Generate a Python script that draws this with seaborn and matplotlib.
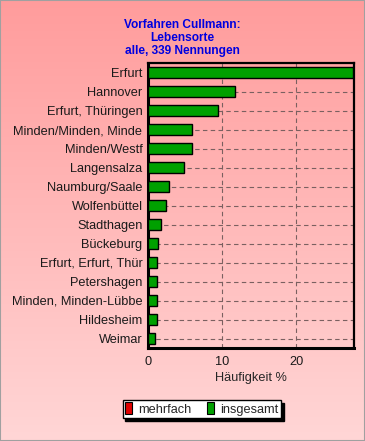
import numpy as np
import pandas as pd
import matplotlib
matplotlib.use("Agg")
import matplotlib.pyplot as plt
from matplotlib.patches import Patch
from matplotlib.ticker import MultipleLocator
import seaborn as sns

# ---------------------------------------------------------
# data (percent of 339 mentions)
# ---------------------------------------------------------
orte = ["Erfurt", "Hannover", "Erfurt, Thüringen", "Minden/Minden, Minde",
        "Minden/Westf", "Langensalza", "Naumburg/Saale", "Wolfenbüttel",
        "Stadthagen", "Bückeburg", "Erfurt, Erfurt, Thür", "Petershagen",
        "Minden, Minden-Lübbe", "Hildesheim", "Weimar"]
insgesamt = [27.7, 11.8, 9.4, 5.9, 5.9, 4.9, 2.9, 2.4,
             1.7, 1.4, 1.2, 1.2, 1.2, 1.2, 0.9]
mehrfach = [0.0] * len(orte)

title_lines = ["Vorfahren Cullmann:", "Lebensorte", "alle, 339 Nennungen"]
x_label = "Häufigkeit %"
legend_labels = ["mehrfach", "insgesamt"]

df = pd.DataFrame({"ort": orte, "insgesamt": insgesamt, "mehrfach": mehrfach})

sns.set_style("white")
plt.rcParams["font.family"] = ["Liberation Sans", "DejaVu Sans"]
FS = 9.2

fig = plt.figure(figsize=(3.65, 4.41), dpi=100)

# pink gradient background
bg = fig.add_axes([0, 0, 1, 1], zorder=-10)
grad = np.linspace(0, 1, 256).reshape(-1, 1)
top = np.array([255, 156, 156]) / 255
bot = np.array([255, 214, 214]) / 255
img = top + (bot - top) * grad[:, :, None]
bg.imshow(img, aspect="auto", extent=[0, 1, 0, 1])
bg.set_xlim(0, 1)
bg.set_ylim(0, 1)
bg.axis("off")
bg.add_patch(plt.Rectangle((0, 0), 1, 1, transform=bg.transAxes, fill=False,
                           edgecolor="#a0a0a0", lw=1.5))

ax = fig.add_axes([148 / 365, 1 - 348 / 441, 206 / 365, 285 / 441])
ax.patch.set_alpha(0)

sns.barplot(data=df, x="mehrfach", y="ort", orient="h", color="#e00000",
            width=0.55, edgecolor="black", linewidth=0, ax=ax, zorder=3)
sns.barplot(data=df, x="insgesamt", y="ort", orient="h", color="#00a000",
            saturation=1, width=0.55, edgecolor="black", linewidth=1, ax=ax, zorder=3)

ax.set_xlim(0, 27.8)
ax.set_ylim(len(orte) - 0.5, -0.5)
ax.xaxis.set_major_locator(MultipleLocator(10))
ax.xaxis.set_minor_locator(MultipleLocator(2))
ax.grid(True, axis="both", which="major", color="#7a6060", linestyle=(0, (4, 3)), lw=0.8, zorder=0)
ax.set_axisbelow(True)

ax.tick_params(axis="x", which="major", direction="out", length=4, width=1,
               labelsize=FS, pad=2, color="#505050")
ax.tick_params(axis="x", which="minor", direction="out", length=2.5, width=0.8, color="#505050")
ax.tick_params(axis="y", direction="out", length=3, width=1, labelsize=FS, pad=1, color="#505050")
ax.minorticks_on()
ax.yaxis.set_minor_locator(plt.NullLocator())
ax.set_ylabel("")
ax.set_xlabel(x_label, fontsize=FS, labelpad=3)
for lab in ax.get_xticklabels() + ax.get_yticklabels():
    lab.set_color("#1a1a1a")

for side in ["left", "bottom"]:
    ax.spines[side].set_linewidth(2.2)
for side in ["top", "right"]:
    ax.spines[side].set_linewidth(1.6)
for s in ax.spines.values():
    s.set_color("black")
    s.set_visible(True)

fig.text(0.5, 1 - 19 / 441, "\n".join(title_lines), ha="center", va="top",
         color="#0000e0", fontsize=8.6, fontweight="bold", linespacing=1.1)

handles = [Patch(facecolor="#e00000", edgecolor="black", lw=0.8),
           Patch(facecolor="#00a000", edgecolor="black", lw=0.8)]
leg = fig.legend(handles, legend_labels, loc="center", ncol=2,
                 bbox_to_anchor=(202 / 365, 1 - 409 / 441), fontsize=FS,
                 frameon=True, fancybox=False, shadow={"color": "black", "alpha": 1},
                 handlelength=0.55, handleheight=1.0, handletextpad=0.5,
                 columnspacing=1.2, borderpad=0.2, borderaxespad=0)
leg._legend_box.sep = 0
leg.get_frame().set_edgecolor("black")
leg.get_frame().set_linewidth(1)
leg.get_frame().set_facecolor("white")

fig.savefig("out.png", dpi=100)
